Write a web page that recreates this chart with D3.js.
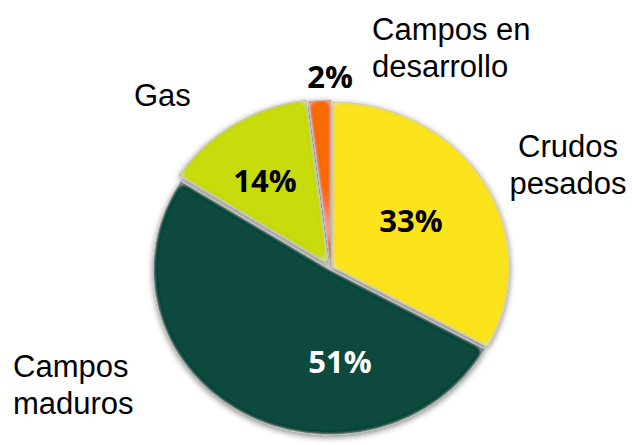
<!DOCTYPE html>
<html>
<head>
<meta charset="utf-8">
<script src="https://cdn.jsdelivr.net/npm/d3@7"></script>
<style>
  html, body { margin: 0; padding: 0; background: #fff; }
  svg { display: block; }
</style>
</head>
<body>
<svg id="chart" width="632" height="445"></svg>
<script>
// ---- data ----
const categories = ["Crudos pesados", "Campos maduros", "Gas", "Campos en desarrollo"];
const values = [33, 51, 14, 2];
const pctLabels = ["33%", "51%", "14%", "2%"];
const colors = ["#FCE41A", "#074A3D", "#C8DC0C", "#F96A06"];
const pctColors = ["#000", "#fff", "#000", "#000"];
const explode = [2, 2, 5, 3];
const categoryLines = [["Crudos", "pesados"], ["Campos", "maduros"], ["Gas"], ["Campos en", "desarrollo"]];

// ---- layout ----
const svg = d3.select("#chart");
const cx = 331, cy = 268, R = 165, sx = 1.07;

const defs = svg.append("defs");
const shadow = defs.append("filter").attr("id", "shadow")
  .attr("x", "-20%").attr("y", "-20%").attr("width", "140%").attr("height", "140%");
shadow.append("feGaussianBlur").attr("in", "SourceAlpha").attr("stdDeviation", 3).attr("result", "b");
shadow.append("feOffset").attr("in", "b").attr("dx", 0).attr("dy", 2).attr("result", "o");
shadow.append("feComponentTransfer").attr("in", "o").attr("result", "o2")
  .append("feFuncA").attr("type", "linear").attr("slope", 0.5);
const sm = shadow.append("feMerge");
sm.append("feMergeNode").attr("in", "o2");
sm.append("feMergeNode").attr("in", "SourceGraphic");

const bevel = defs.append("filter").attr("id", "bevel")
  .attr("x", "-10%").attr("y", "-10%").attr("width", "120%").attr("height", "120%");
// dark rim at the very edge
bevel.append("feGaussianBlur").attr("in", "SourceAlpha").attr("stdDeviation", 2).attr("result", "blur2");
bevel.append("feComposite").attr("in", "SourceAlpha").attr("in2", "blur2").attr("operator", "out").attr("result", "rim");
bevel.append("feFlood").attr("flood-color", "#000").attr("flood-opacity", 0.4).attr("result", "dk");
bevel.append("feComposite").attr("in", "dk").attr("in2", "rim").attr("operator", "in").attr("result", "rimDark");
// light band just inside the edges
bevel.append("feGaussianBlur").attr("in", "SourceAlpha").attr("stdDeviation", 4).attr("result", "blur4");
bevel.append("feComponentTransfer").attr("in", "blur4").attr("result", "band")
  .append("feFuncA").attr("type", "table").attr("tableValues", "0 0 0 0.2 0.9 0.9 0.5 0.1 0 0 0");
bevel.append("feComposite").attr("in", "band").attr("in2", "SourceAlpha").attr("operator", "in").attr("result", "bandIn");
bevel.append("feFlood").attr("flood-color", "#fff").attr("flood-opacity", 0.28).attr("result", "wh");
bevel.append("feComposite").attr("in", "wh").attr("in2", "bandIn").attr("operator", "in").attr("result", "light");
const bm = bevel.append("feMerge");
bm.append("feMergeNode").attr("in", "SourceGraphic");
bm.append("feMergeNode").attr("in", "light");
bm.append("feMergeNode").attr("in", "rimDark");

const pie = d3.pie().sort(null).value(d => d)(values);
const arc = d3.arc().innerRadius(0).outerRadius(R);

const g = svg.append("g")
  .attr("transform", `translate(${cx},${cy}) scale(${sx},1)`)
  .attr("filter", "url(#shadow)");

g.selectAll("path.slice").data(pie).join("path")
  .attr("class", "slice")
  .attr("d", arc)
  .attr("fill", (d, i) => colors[i])
  .attr("stroke", "#cfcfc6").attr("stroke-width", 0.7)
  .attr("filter", "url(#bevel)")
  .attr("transform", (d, i) => {
    const a = (d.startAngle + d.endAngle) / 2;
    return `translate(${Math.sin(a) * explode[i]},${-Math.cos(a) * explode[i]})`;
  });

// percentage labels
const pctPos = [[411, 232], [340, 373], [265, 192], [330, 88]];
svg.selectAll("text.pct").data(pctLabels).join("text")
  .attr("class", "pct")
  .attr("x", (d, i) => pctPos[i][0]).attr("y", (d, i) => pctPos[i][1])
  .attr("text-anchor", "middle")
  .attr("font-family", "'Open Sans', sans-serif")
  .attr("font-weight", "bold").attr("font-size", 31)
  .attr("fill", (d, i) => pctColors[i])
  .text(d => d);

// category labels
const catPos = [[568, 157, "middle"], [13, 377, "start"], [134, 106, "start"], [372, 40, "start"]];
const lineH = 37;
categoryLines.forEach((lines, i) => {
  const t = svg.append("text")
    .attr("x", catPos[i][0]).attr("y", catPos[i][1])
    .attr("text-anchor", catPos[i][2])
    .attr("font-family", "'Liberation Sans', Arial, sans-serif")
    .attr("font-size", 31).attr("fill", "#000");
  lines.forEach((l, j) => {
    t.append("tspan").attr("x", catPos[i][0]).attr("dy", j === 0 ? 0 : lineH).text(l);
  });
});
</script>
</body>
</html>
